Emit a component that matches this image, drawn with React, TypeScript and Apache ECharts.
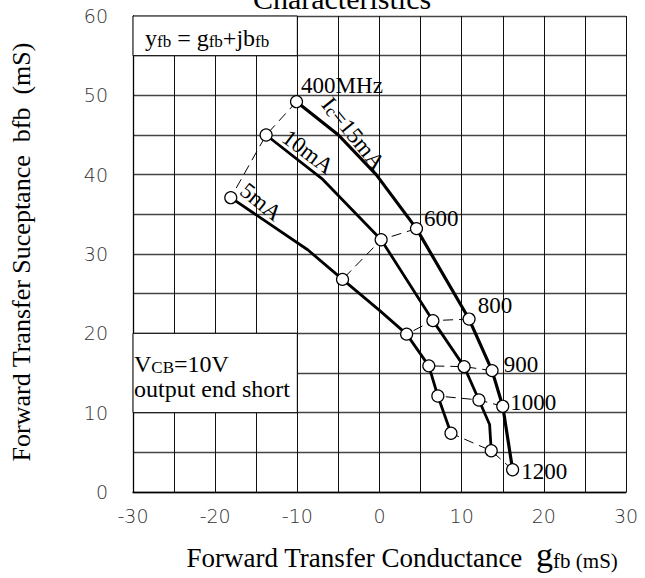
import React, { useEffect, useRef } from 'react';
import * as echarts from 'echarts';

// ---- data ----
const freqLabels = ['400MHz', '600', '800', '900', '1000', '1200'];
// Ic = 15 mA
const g15 = [-10.1, 4.5, 10.9, 13.7, 15.0, 16.2];
const b15 = [49.2, 33.2, 21.8, 15.3, 10.8, 2.8];
// Ic = 10 mA
const g10 = [-13.8, 0.2, 6.5, 10.3, 12.1, 13.6];
const b10 = [45.0, 31.8, 21.6, 15.8, 11.6, 5.2];
// Ic = 5 mA
const g5 = [-18.1, -4.5, 3.3, 6.0, 7.1, 8.7];
const b5 = [37.1, 26.8, 19.9, 15.9, 12.1, 7.4];
// intermediate bends of the curves: [index of preceding frequency point, g, b]
const bends15 = [[0, -5.0, 45.0], [0, -0.4, 40.0]];
const bends10 = [[0, -6.9, 39.4], [4, 13.4, 8.5]];
const bends5 = [[0, -8.7, 30.5], [1, 0.0, 22.9]];

const xMin = -30, xMax = 30, yMin = 0, yMax = 60, step = 5;

// label placement (style, not data)
const freqLabelOffsets = [[-2, -16], [1, -10], [2, -14], [5, -6], [1, -4], [2, 2]];

const SERIF = 'Liberation Serif';
const TICKFONT = 'DejaVu Sans';

function buildCurve(g: number[], b: number[], bends: number[][], withLabels: boolean) {
  const out: any[] = [];
  g.forEach((gv, i) => {
    const item: any = { value: [gv, b[i]] };
    if (withLabels) {
      item.label = {
        show: true,
        position: 'right',
        distance: 0,
        offset: freqLabelOffsets[i],
        formatter: freqLabels[i],
        fontFamily: SERIF,
        fontSize: 23,
        color: '#000',
      };
    }
    out.push(item);
    bends.filter((bd) => bd[0] === i).forEach((bd) => out.push({ value: [bd[1], bd[2]], symbol: 'none' }));
  });
  return out;
}

export default function App() {
  const ref = useRef<HTMLDivElement>(null);
  useEffect(() => {
    if (!ref.current) return;
    const chart = echarts.init(ref.current, undefined, { renderer: 'svg' });

    const curveStyle = (width: number) => ({
      type: 'line',
      smooth: false,
      symbol: 'circle',
      symbolSize: 12,
      itemStyle: { color: '#fff', borderColor: '#000', borderWidth: 1.2 },
      lineStyle: { color: '#000', width },
      label: { show: false },
      z: 3,
      silent: true,
    });

    const dashed = freqLabels.map((_, i) => ({
      type: 'line',
      data: [[g15[i], b15[i]], [g10[i], b10[i]], [g5[i], b5[i]]],
      symbol: 'none',
      lineStyle: { color: '#000', width: 1, type: [10, 6] },
      z: 2,
      silent: true,
    }));
    (dashed[0] as any).markArea = {
      silent: true,
      itemStyle: { color: '#fff', borderColor: '#000', borderWidth: 1 },
      data: [
        [{ coord: [-30, 55] }, { coord: [-10, 60] }],
        [{ coord: [-30, 10] }, { coord: [-10, 20] }],
      ],
    };

    const tickLabel = (margin: number) => ({
      margin,
      fontFamily: TICKFONT,
      fontWeight: 200,
      fontSize: 19,
      color: '#333',
      formatter: (v: number) => (v % 10 === 0 ? String(v) : ''),
    });

    // tokens share a common baseline when bottom-aligned with this line height
    const tok = (size: number) => ({
      fontFamily: SERIF,
      fontSize: size,
      fill: '#000',
      lineHeight: Math.round(10.8 + 0.6 * size),
      verticalAlign: 'bottom',
    });

    const option: any = {
      animation: false,
      backgroundColor: '#fff',
      grid: { left: 133, right: 19, top: 16, bottom: 86 },
      xAxis: {
        type: 'value',
        min: xMin,
        max: xMax,
        interval: step,
        axisLine: { show: true, onZero: false, lineStyle: { color: '#000', width: 1.3 } },
        axisTick: { show: false },
        splitLine: { show: true, lineStyle: { color: '#111', width: 1 } },
        axisLabel: tickLabel(14),
      },
      yAxis: {
        type: 'value',
        min: yMin,
        max: yMax,
        interval: step,
        axisLine: { show: true, onZero: false, lineStyle: { color: '#000', width: 1.3 } },
        axisTick: { show: false },
        splitLine: { show: true, lineStyle: { color: '#444', width: 1.3 } },
        axisLabel: tickLabel(25),
      },
      series: [
        ...dashed,
        { ...curveStyle(3.2), name: '15mA', data: buildCurve(g15, b15, bends15, true) },
        { ...curveStyle(2.8), name: '10mA', data: buildCurve(g10, b10, bends10, false) },
        { ...curveStyle(2.8), name: '5mA', data: buildCurve(g5, b5, bends5, false) },
      ],
      graphic: [
        {
          type: 'text', x: 342, y: -2, z: 10,
          style: { text: 'Characteristics', fontFamily: SERIF, fontSize: 30, fill: '#000', align: 'center', verticalAlign: 'middle' },
        },
        {
          type: 'text', x: 21, y: 252, rotation: Math.PI / 2, z: 10,
          style: {
            text: 'Forward Transfer Suceptance  bfb  (mS)',
            fontFamily: SERIF, fontSize: 26, fill: '#000', align: 'center', verticalAlign: 'middle',
          },
        },
        {
          type: 'text', x: 402, y: 556, z: 10,
          style: {
            text: '{a|Forward Transfer Conductance  }{g|g}{s|fb (mS)}',
            align: 'center', verticalAlign: 'middle',
            rich: { a: tok(27), g: tok(34), s: tok(21) },
          },
        },
        {
          type: 'text', x: 145, y: 37, z: 10,
          style: {
            text: '{a|y}{s|fb}{a| = g}{s|fb}{a|+jb}{s|fb}',
            align: 'left', verticalAlign: 'middle',
            rich: { a: tok(24), s: tok(17) },
          },
        },
        {
          type: 'text', x: 134, y: 363, z: 10,
          style: {
            text: '{a|V}{s|CB}{a|=10V}',
            align: 'left', verticalAlign: 'middle',
            rich: { a: tok(24), s: tok(17) },
          },
        },
        {
          type: 'text', x: 134, y: 389, z: 10,
          style: {
            text: 'output end short',
            fontFamily: SERIF, fontSize: 24, fill: '#000', align: 'left', verticalAlign: 'middle',
          },
        },
        {
          type: 'text', x: 354, y: 133, rotation: (-51 * Math.PI) / 180, z: 10,
          style: {
            text: '{a|I}{s|c}{a|=15mA}',
            align: 'center', verticalAlign: 'middle',
            rich: { a: tok(23), s: tok(17) },
          },
        },
        {
          type: 'text', x: 308, y: 152, rotation: (-37 * Math.PI) / 180, z: 10,
          style: { text: '10mA', fontFamily: SERIF, fontSize: 23, fill: '#000', align: 'center', verticalAlign: 'middle' },
        },
        {
          type: 'text', x: 261, y: 202, rotation: (-39 * Math.PI) / 180, z: 10,
          style: { text: '5mA', fontFamily: SERIF, fontSize: 23, fill: '#000', align: 'center', verticalAlign: 'middle' },
        },
      ],
    };

    chart.setOption(option);
    return () => chart.dispose();
  }, []);

  return <div ref={ref} style={{ width: 645, height: 578, position: 'absolute', left: 0, top: 0 }} />;
}
